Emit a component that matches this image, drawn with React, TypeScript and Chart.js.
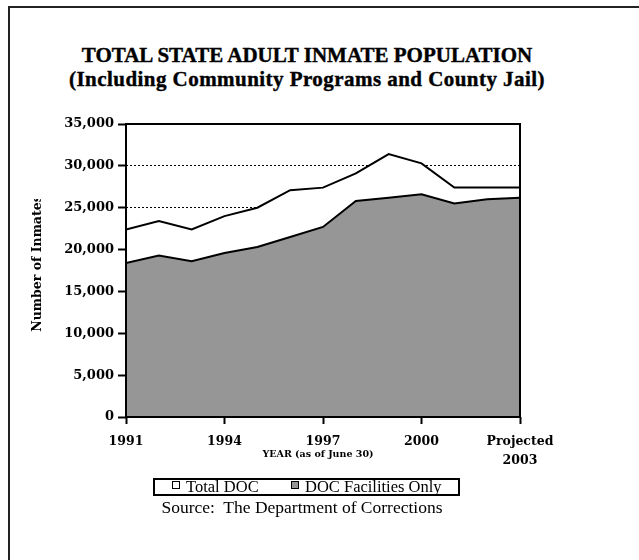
import React, { useEffect, useRef } from "react";
import { Chart, registerables } from "chart.js";

Chart.register(...registerables);

// ---------- data ----------
const years = [1991, 1992, 1993, 1994, 1995, 1996, 1997, 1998, 1999, 2000, 2001, 2002, 2003];
const totalDOC = [22400, 23400, 22400, 24000, 25000, 27100, 27400, 29100, 31400, 30300, 27400, 27400, 27400];
const facilitiesOnly = [18400, 19300, 18600, 19600, 20300, 21500, 22700, 25800, 26200, 26600, 25500, 26000, 26200];
const xTickValues = [1991, 1994, 1997, 2000, 2003];
const xTickLabels: (string | string[])[] = ["1991", "1994", "1997", "2000", ["Projected", "2003"]];
const yTickValues = [0, 5000, 10000, 15000, 20000, 25000, 30000, 35000];
const seriesLabels = ["Total DOC", "DOC Facilities Only"];
const titleLines = ["TOTAL STATE ADULT INMATE POPULATION", "(Including Community Programs and County Jail)"];
const xTitle = "YEAR (as of June 30)";
const yTitle = "Number of Inmates";
const sourceText = "Source:  The Department of Corrections";

const seriesFill = ["#ffffff", "#969696"];

const xTickFont = { family: "'DejaVu Serif', serif", weight: "bold" as const, size: 12.5, lineHeight: 1.55 };
const yTickFont = { family: "'DejaVu Serif', serif", weight: "bold" as const, size: 13 };

const axisTitlesPlugin = {
  id: "axisTitles",
  afterDraw(chart: any) {
    const { ctx, chartArea } = chart;
    // plot frame
    ctx.save();
    ctx.strokeStyle = "#000";
    ctx.lineWidth = 2;
    ctx.strokeRect(chartArea.left, chartArea.top, chartArea.right - chartArea.left, chartArea.bottom - chartArea.top);
    ctx.restore();

    // x axis title
    ctx.save();
    ctx.fillStyle = "#000";
    ctx.font = "bold 9.5px 'DejaVu Serif', serif";
    ctx.textAlign = "center";
    ctx.textBaseline = "middle";
    ctx.fillText(xTitle, (chartArea.left + chartArea.right) / 2 - 5, chartArea.bottom + 37.5);
    ctx.restore();

    // y axis title (clipped at top like the original)
    ctx.save();
    ctx.beginPath();
    ctx.rect(0, 199, 120, 300);
    ctx.clip();
    ctx.translate(38, (chartArea.top + chartArea.bottom) / 2 - 7);
    ctx.rotate(-Math.PI / 2);
    ctx.fillStyle = "#000";
    ctx.font = "bold 12.5px 'DejaVu Serif', serif";
    ctx.textAlign = "center";
    ctx.textBaseline = "middle";
    ctx.fillText(yTitle, 0, 0);
    ctx.restore();
  },
};

function ChartCanvas() {
  const ref = useRef<HTMLCanvasElement | null>(null);
  useEffect(() => {
    if (!ref.current) return;
    const chart = new Chart(ref.current, {
      type: "line",
      data: {
        datasets: [
          {
            label: seriesLabels[0],
            data: years.map((x, i) => ({ x, y: totalDOC[i] })),
            borderColor: "#000",
            borderWidth: 2,
            backgroundColor: seriesFill[0],
            fill: "origin",
            pointRadius: 0,
            tension: 0,
            order: 2,
          },
          {
            label: seriesLabels[1],
            data: years.map((x, i) => ({ x, y: facilitiesOnly[i] })),
            borderColor: "#000",
            borderWidth: 2,
            backgroundColor: seriesFill[1],
            fill: "origin",
            pointRadius: 0,
            tension: 0,
            order: 1,
          },
        ],
      },
      options: {
        animation: false,
        responsive: false,
        devicePixelRatio: 1,
        layout: { padding: { left: 0, right: 119, top: 124, bottom: 83 } },
        plugins: {
          legend: { display: false },
          title: { display: false },
          tooltip: { enabled: false },
        },
        scales: {
          x: {
            type: "linear",
            min: 1991,
            max: 2003,
            afterBuildTicks: (s: any) => {
              s.ticks = xTickValues.map((v) => ({ value: v }));
            },
            afterFit: (s: any) => {
              s.height = 60;
            },
            ticks: {
              autoSkip: false,
              maxRotation: 0,
              color: "#000",
              font: xTickFont,
              padding: 8,
              callback: (v: any) => {
                const i = xTickValues.indexOf(Number(v));
                return i >= 0 ? xTickLabels[i] : "";
              },
            },
            grid: {
              drawOnChartArea: false,
              drawTicks: true,
              tickLength: 7,
              tickColor: "#000",
              tickWidth: 2,
            },
            border: { display: false },
          },
          y: {
            min: 0,
            max: 35000,
            afterBuildTicks: (s: any) => {
              s.ticks = yTickValues.map((v) => ({ value: v }));
            },
            afterFit: (s: any) => {
              s.width = 126;
            },
            ticks: {
              color: "#000",
              font: yTickFont,
              padding: 4,
              callback: (v: any) => Number(v).toLocaleString("en-US"),
            },
            grid: {
              color: "#000",
              lineWidth: 1,
              drawTicks: true,
              tickLength: 8,
              tickColor: "#000",
              tickWidth: 2,
              tickBorderDash: [],
            },
            border: { display: false, dash: [2, 2] },
          },
        },
      },
      plugins: [axisTitlesPlugin],
    } as any);
    return () => chart.destroy();
  }, []);
  return (
    <canvas
      ref={ref}
      width={639}
      height={560}
      style={{ position: "absolute", left: 0, top: 0, width: 639, height: 560 }}
    />
  );
}

export default function App() {
  return (
    <div
      style={{
        position: "absolute",
        left: 0,
        top: 0,
        width: 639,
        height: 560,
        background: "#fff",
        overflow: "hidden",
        fontFamily: "'Liberation Serif', serif",
      }}
    >
      <div
        style={{
          position: "absolute",
          left: 8,
          top: 6,
          width: 700,
          height: 700,
          borderTop: "2px solid #222",
          borderLeft: "2px solid #222",
        }}
      />
      <div
        style={{
          position: "absolute",
          left: 0,
          width: 614,
          top: 43,
          textAlign: "center",
          fontWeight: "bold",
          fontSize: 21,
          lineHeight: "24px",
          color: "#000",
          whiteSpace: "nowrap",
          WebkitTextStroke: "0.4px #000",
        }}
      >
        <div>{titleLines[0]}</div>
        <div style={{ letterSpacing: 0.45 }}>{titleLines[1]}</div>
      </div>
      <ChartCanvas />
      <div
        style={{
          position: "absolute",
          left: 153,
          top: 478,
          width: 303,
          height: 14,
          border: "2px solid #000",
          fontSize: 16.5,
          lineHeight: "14px",
          color: "#000",
          whiteSpace: "nowrap",
          overflow: "hidden",
        }}
      >
        {seriesLabels.map((lab, i) => (
          <span
            key={lab}
            style={{ position: "absolute", left: i === 0 ? 17 : 136, top: 0, display: "inline-flex", alignItems: "center" }}
          >
            <span
              style={{
                display: "inline-block",
                width: 6,
                height: 6,
                border: "1.5px solid #000",
                background: seriesFill[i],
                marginRight: 6,
                marginTop: -4,
              }}
            />
            <span>{lab}</span>
          </span>
        ))}
      </div>
      <div
        style={{
          position: "absolute",
          left: 0,
          width: 604,
          top: 497,
          textAlign: "center",
          fontSize: 17.5,
          whiteSpace: "pre",
          color: "#000",
        }}
      >
        {sourceText}
      </div>
    </div>
  );
}
